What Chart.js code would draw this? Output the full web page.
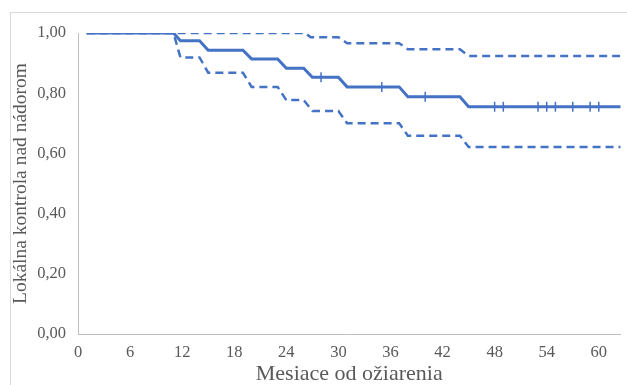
<!DOCTYPE html>
<html>
<head>
<meta charset="utf-8">
<script src="https://cdn.jsdelivr.net/npm/chart.js@4.4.1/dist/chart.umd.min.js"></script>
<style>
    html, body { margin: 0; padding: 0; background: #fff; }
    #wrap { position: relative; width: 627px; height: 385px; overflow: hidden; }
    #frame { position: absolute; left: 10px; top: 12px; width: 700px; height: 500px;
             border-left: 1px solid #d9d9d9; border-top: 1px solid #d9d9d9; }
    canvas { position: absolute; left: 0; top: 0; }
</style>
</head>
<body>
<div id="wrap">
    <div id="frame"></div>
    <canvas id="km" width="627" height="385"></canvas>
</div>
<script>
// Kaplan-Meier estimate (months, survival)
const kmMonths = [1, 11, 11.8, 14, 15, 19, 20, 23, 24, 26, 27, 30, 31, 37, 38, 44, 45, 64];
const kmValues = [1, 1, 0.974, 0.974, 0.943, 0.943, 0.914, 0.914, 0.883, 0.883, 0.853, 0.853, 0.821, 0.821, 0.788, 0.788, 0.755, 0.755];

// 95% CI upper bound
const upperMonths = [1, 26.2, 26.8, 30, 31, 37, 38, 44, 45, 64];
const upperValues = [1, 1, 0.986, 0.986, 0.966, 0.966, 0.946, 0.946, 0.924, 0.924];

// 95% CI lower bound
const lowerMonths = [1, 11, 11.8, 14, 15, 19, 20, 23, 24, 26, 27, 30, 31, 37, 38, 44, 45, 64];
const lowerValues = [1, 1, 0.919, 0.919, 0.868, 0.868, 0.821, 0.821, 0.777, 0.777, 0.741, 0.741, 0.700, 0.700, 0.659, 0.659, 0.621, 0.621];

// censored observations
const censorMonths = [28, 35, 40, 48, 49, 53, 54, 55, 57, 59, 60];
const censorValues = [0.853, 0.821, 0.788, 0.755, 0.755, 0.755, 0.755, 0.755, 0.755, 0.755, 0.755];

const xTicks = [0, 6, 12, 18, 24, 30, 36, 42, 48, 54, 60];
const yTicks = [0, 0.2, 0.4, 0.6, 0.8, 1.0];

const blue = '#4472C4';
const toPts = (xs, ys) => xs.map((x, i) => ({ x: x, y: ys[i] }));

document.addEventListener('DOMContentLoaded', () => {
    const ctx = document.getElementById('km').getContext('2d');
    new Chart(ctx, {
        type: 'scatter',
        data: {
            datasets: [
                {
                    data: toPts(upperMonths, upperValues),
                    showLine: true, borderColor: blue, borderWidth: 2.5,
                    borderDash: [8, 5], pointRadius: 0
                },
                {
                    data: toPts(lowerMonths, lowerValues),
                    showLine: true, borderColor: blue, borderWidth: 2.5,
                    borderDash: [8, 5], pointRadius: 0
                },
                {
                    data: toPts(kmMonths, kmValues),
                    showLine: true, borderColor: blue, borderWidth: 3, pointRadius: 0
                },
                {
                    data: toPts(censorMonths, censorValues),
                    showLine: false, pointStyle: 'line', rotation: 90,
                    pointRadius: 5, borderColor: blue, borderWidth: 1.5
                }
            ]
        },
        options: {
            responsive: false,
            animation: false,
            layout: { padding: { left: 9, top: 33, right: 0, bottom: 0 } },
            plugins: { legend: { display: false }, tooltip: { enabled: false } },
            scales: {
                x: {
                    type: 'linear', min: 0, max: 62.5,
                    grid: { display: false, drawTicks: false },
                    border: { display: true, color: '#bfbfbf', width: 1 },
                    afterBuildTicks: s => { s.ticks = xTicks.map(v => ({ value: v })); },
                    afterFit: s => { s.height = 51; },
                    ticks: {
                        color: '#595959', padding: 9,
                        font: { family: 'Liberation Serif', size: 16.5 }
                    },
                    title: {
                        display: true, text: 'Mesiace od ožiarenia', color: '#595959',
                        font: { family: 'Liberation Serif', size: 22, lineHeight: 1 },
                        padding: { top: 0, bottom: 0 }
                    }
                },
                y: {
                    min: 0, max: 1,
                    grid: { display: false, drawTicks: false },
                    border: { display: true, color: '#bfbfbf', width: 1 },
                    afterBuildTicks: s => { s.ticks = yTicks.map(v => ({ value: v })); },
                    afterFit: s => { s.width = 69; },
                    ticks: {
                        color: '#595959', padding: 12,
                        font: { family: 'Liberation Serif', size: 16.5 },
                        callback: v => v.toFixed(2).replace('.', ',')
                    },
                    title: {
                        display: true, text: 'Lokálna kontrola nad nádorom', color: '#595959',
                        font: { family: 'Liberation Serif', size: 19.5 }, padding: 0
                    }
                }
            }
        }
    });
});
</script>
</body>
</html>
